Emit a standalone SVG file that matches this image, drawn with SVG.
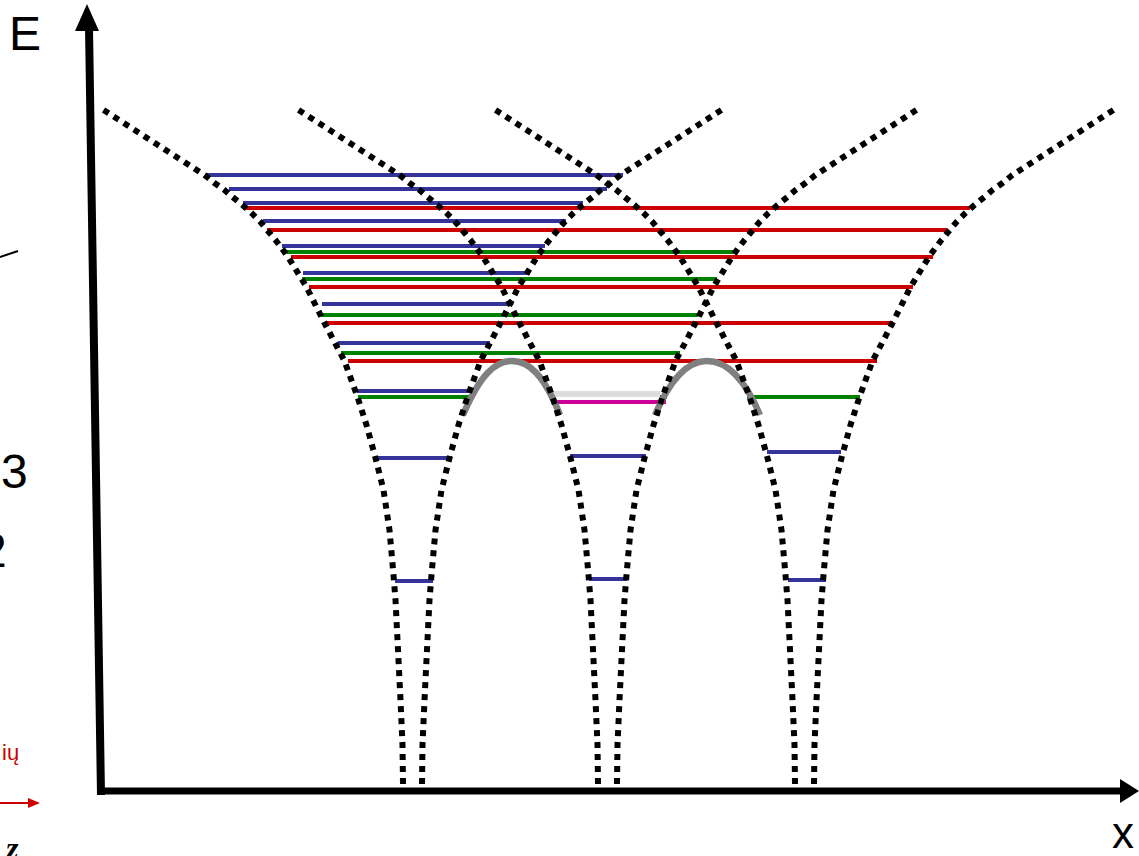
<svg xmlns="http://www.w3.org/2000/svg" xmlns:xlink="http://www.w3.org/1999/xlink" width="1139" height="856" viewBox="0 0 1139 856">
<style>
.dot{fill:none;stroke:#000;stroke-width:6;stroke-dasharray:6 6}
.b{stroke:#333399;stroke-width:4}
.r{stroke:#cc0000;stroke-width:4}
.g{stroke:#008000;stroke-width:4}
.bump{fill:none;stroke:#808080;stroke-width:6.5}
.lbl{font-family:"Liberation Sans",Arial,sans-serif;fill:#000}
</style>
<defs>
<path id="br" d="M9.5,784 L10,745 L12,700 L14.5,650 L17,600 L19,575 L23,530 L29,490 L37,458 L46,425 L55,397 L68,361 L88,323 L106,287 L125,256 L137,240 L152,222 L161,213 L170,205 L180,197 L188,190 L198,183 L208,175 L312,108"/>
</defs>
<rect width="1139" height="856" fill="#fff"/>
<g id="axes">
<line x1="101" y1="795" x2="89" y2="28" stroke="#000" stroke-width="8"/>
<polygon points="87,4 75,31 99,31" fill="#000"/>
<line x1="97" y1="791" x2="1122" y2="791" stroke="#000" stroke-width="7"/>
<polygon points="1139,791 1120,779 1120,803" fill="#000"/>
</g>
<g id="labels">
<text class="lbl" x="9" y="50" font-size="48">E</text>
<text class="lbl" x="1112" y="848" font-size="44">x</text>
<text class="lbl" x="1" y="488" font-size="48">3</text>
<text class="lbl" x="-20" y="567" font-size="48">2</text>
<text x="2" y="760" font-size="22" fill="#cc0000" font-family="Liberation Sans, Arial, sans-serif">ių</text>
<text x="6" y="859" font-size="32" font-weight="bold" font-style="italic" fill="#000" font-family="Liberation Serif, serif">z</text>
<line x1="0" y1="257" x2="18" y2="251" stroke="#000" stroke-width="2"/>
<line x1="0" y1="803" x2="30" y2="803" stroke="#cc0000" stroke-width="2"/>
<polygon points="40,803 28,798 28,808" fill="#cc0000"/>
</g>
<g id="levels">
<line class="b" x1="207" y1="175" x2="623" y2="175"/>
<line class="b" x1="229" y1="189" x2="607" y2="189"/>
<line class="b" x1="243" y1="203" x2="583" y2="203"/>
<line class="b" x1="263" y1="221" x2="566" y2="221"/>
<line class="b" x1="282" y1="246" x2="545" y2="246"/>
<line class="b" x1="303" y1="273" x2="530" y2="273"/>
<line class="b" x1="322" y1="304" x2="510" y2="304"/>
<line class="b" x1="338" y1="343" x2="490" y2="343"/>
<line class="b" x1="357" y1="391" x2="471" y2="391"/>
<line class="b" x1="378" y1="458" x2="452" y2="458"/>
<line class="b" x1="395" y1="581" x2="433" y2="581"/>
<line class="b" x1="570" y1="456" x2="646" y2="456"/>
<line class="b" x1="589" y1="579" x2="627" y2="579"/>
<line class="b" x1="767" y1="452" x2="841" y2="452"/>
<line class="b" x1="788" y1="580" x2="826" y2="580"/>
<line class="r" x1="245" y1="208" x2="970" y2="208"/>
<line class="r" x1="267" y1="230" x2="947" y2="230"/>
<line class="r" x1="291" y1="257" x2="933" y2="257"/>
<line class="r" x1="309" y1="287" x2="913" y2="287"/>
<line class="r" x1="327" y1="323" x2="893" y2="323"/>
<line class="r" x1="348" y1="361" x2="877" y2="361"/>
<line class="g" x1="284" y1="252" x2="737" y2="252"/>
<line class="g" x1="302" y1="279" x2="717" y2="279"/>
<line class="g" x1="321" y1="315" x2="698" y2="315"/>
<line class="g" x1="341" y1="353" x2="680" y2="353"/>
<line class="g" x1="358" y1="397" x2="472" y2="397"/>
<line class="g" x1="660" y1="397" x2="667" y2="397"/>
<line class="g" x1="747" y1="397" x2="860" y2="397"/>
<line x1="553" y1="394" x2="660" y2="394" stroke="#dddddd" stroke-width="6"/>
<line x1="553" y1="402" x2="666" y2="402" stroke="#cc0099" stroke-width="4"/>
</g>
<g id="barriers">
<path class="bump" d="M463,415 C480,375 495,361 512,361 C529,361 544,375 560,415"/>
<path class="bump" d="M655,415 C672,375 690,361 707,361 C724,361 743,375 760,415"/>
</g>
<g id="wells">
<use xlink:href="#br" href="#br" class="dot" transform="translate(412.5,0)"/>
<use xlink:href="#br" href="#br" class="dot" transform="translate(412.5,0) scale(-1,1)"/>
<use xlink:href="#br" href="#br" class="dot" transform="translate(607.5,0)"/>
<use xlink:href="#br" href="#br" class="dot" transform="translate(607.5,0) scale(-1,1)"/>
<use xlink:href="#br" href="#br" class="dot" transform="translate(804.5,0)"/>
<use xlink:href="#br" href="#br" class="dot" transform="translate(804.5,0) scale(-1,1)"/>
</g>
</svg>
